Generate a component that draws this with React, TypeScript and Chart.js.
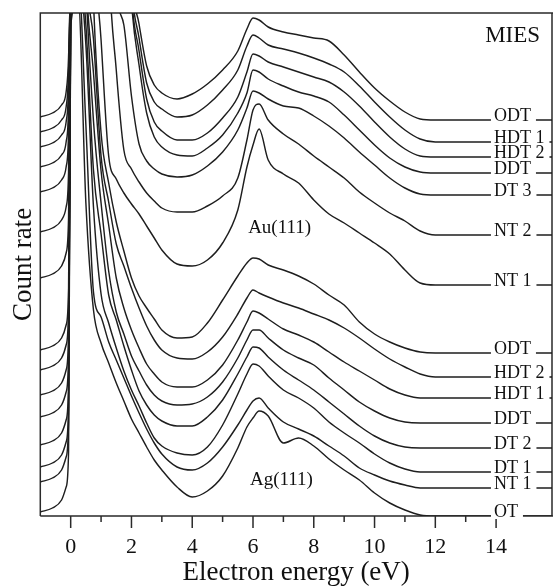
import React, { useEffect, useRef } from 'react';
import { Chart, registerables } from 'chart.js';

Chart.register(...registerables);

const FONT = '"Liberation Serif", "Times New Roman", serif';

// Electron energy grid (eV)
const energy = [-1, -0.6, -0.3, -0.15, -0.07, 0, 0.25, 0.5, 0.75, 1, 1.25, 1.5, 1.75, 2, 2.25, 2.5, 2.75, 3, 3.5, 4, 4.5, 5, 5.5, 5.8, 6, 6.2, 6.5, 7, 7.5, 8, 8.5, 9, 9.5, 10, 10.5, 11, 11.5, 12, 16];

// Au(111) spectra (offset count rate, arbitrary units)
const auODT = [399, 403, 411, 424, 459, 560, 1500, 1450, 1350, 1200, 1050, 900, 720, 540, 492, 450, 431, 423, 417, 422, 432, 446, 465, 487, 498, 496, 489, 484, 481, 478, 475, 461, 444, 428, 415, 404, 397, 396, 396];
const auHDT1 = [384, 388, 396, 409, 444, 560, 1500, 1450, 1350, 1200, 1050, 880, 700, 530, 478, 433, 414, 407, 399, 401, 411, 426, 446, 470, 481, 478, 471, 467, 463, 458, 452, 444, 430, 414, 399, 386, 377, 374, 374];
const auHDT2 = [369, 373, 381, 394, 429, 560, 1500, 1450, 1350, 1200, 1040, 860, 690, 520, 465, 417, 394, 385, 376, 376, 383, 398, 419, 444, 462, 460, 454, 449, 444, 439, 434, 424, 410, 394, 379, 367, 360, 359, 359];
const auDDT = [349, 353, 361, 374, 409, 560, 1500, 1450, 1350, 1200, 1030, 850, 680, 515, 451, 403, 379, 369, 361, 360, 368, 381, 403, 423, 446, 444, 437, 430, 424, 420, 414, 401, 386, 371, 358, 349, 344, 343, 343];
const auDT3 = [324, 328, 336, 349, 384, 560, 1500, 1400, 1200, 1000, 750, 530, 491, 420, 372, 355, 347, 342, 339, 341, 350, 364, 386, 408, 425, 423, 417, 410, 408, 400, 390, 378, 364, 351, 338, 328, 322, 321, 321];
const auNT2 = [284, 288, 296, 309, 344, 560, 1500, 1350, 1150, 900, 560, 446, 366, 347, 334, 323, 315, 308, 304, 304, 310, 320, 338, 376, 406, 412, 396, 382, 372, 360, 349, 338, 324, 313, 303, 295, 285, 281, 281];
const auNT1 = [238, 242, 250, 263, 298, 560, 1300, 1000, 600, 476, 360, 337, 323, 312, 302, 290, 278, 266, 252, 250, 256, 273, 306, 349, 371, 387, 356, 342, 333, 316, 302, 293, 283, 273, 262, 246, 233, 231, 231];

// Ag(111) spectra
const agODT = [166, 170, 178, 191, 226, 540, 1100, 800, 515, 383, 333, 294, 265, 238, 220, 208, 197, 186, 178, 179, 193, 216, 240, 253, 258, 257, 251, 246, 240, 232, 221, 211, 194, 182, 174, 168, 164, 163, 163];
const agHDT2 = [146, 150, 158, 171, 206, 530, 900, 560, 477, 360, 314, 272, 250, 228, 208, 190, 176, 166, 158, 157, 164, 179, 202, 218, 226, 223, 219, 213, 208, 202, 196, 188, 178, 167, 157, 149, 142, 139, 139];
const agHDT1 = [121, 125, 133, 146, 181, 520, 800, 540, 443, 345, 291, 238, 208, 186, 168, 152, 142, 134, 129, 129, 136, 151, 176, 194, 205, 203, 197, 187, 181, 174, 164, 154, 145, 136, 127, 121, 118, 118, 118];
const agDDT = [99, 103, 111, 124, 159, 510, 750, 530, 395, 313, 245, 204, 182, 160, 145, 131, 121, 115, 111, 112, 119, 134, 158, 176, 186, 186, 178, 166, 158, 151, 138, 126, 114, 105, 98, 94, 93, 93, 93];
const agDT2 = [71, 75, 83, 96, 131, 505, 560, 491, 346, 282, 221, 196, 170, 146, 125, 111, 101, 95, 90, 90, 99, 116, 142, 159, 169, 168, 159, 146, 136, 126, 114, 102, 90, 80, 73, 69, 68, 68, 68];
const agDT1 = [49, 53, 61, 74, 109, 500, 545, 471, 309, 222, 193, 168, 145, 126, 110, 93, 78, 70, 63, 61, 69, 91, 122, 142, 152, 150, 140, 126, 118, 108, 94, 83, 73, 62, 53, 47, 44, 44, 44];
const agNT1 = [34, 38, 46, 59, 94, 495, 540, 391, 224, 199, 174, 156, 138, 120, 103, 87, 73, 62, 49, 46, 53, 69, 91, 106, 115, 118, 108, 94, 87, 80, 70, 60, 48, 41, 35, 31, 28, 28, 28];
const agOT = [4, 8, 16, 29, 64, 490, 515, 313, 206, 173, 153, 133, 115, 97, 83, 69, 56, 46, 29, 19, 25, 40, 68, 89, 98, 105, 100, 73, 78, 70, 57, 46, 36, 23, 13, 6, 1, 0, 0];

const auNames = ['ODT', 'HDT 1', 'HDT 2', 'DDT', 'DT 3', 'NT 2', 'NT 1'];
const auValues = [auODT, auHDT1, auHDT2, auDDT, auDT3, auNT2, auNT1];
const agNames = ['ODT', 'HDT 2', 'HDT 1', 'DDT', 'DT 2', 'DT 1', 'NT 1', 'OT'];
const agValues = [agODT, agHDT2, agHDT1, agDDT, agDT2, agDT1, agNT1, agOT];

const majorTicks = [0, 2, 4, 6, 8, 10, 12, 14];
const minorTicks = [1, 3, 5, 7, 9, 11, 13];
const labelEnergy = 13.93;

const notes = [
  { text: 'MIES', x: 13.64, y: 474, size: 23 },
  { text: 'Au(111)', x: 5.84, y: 283, size: 19 },
  { text: 'Ag(111)', x: 5.9, y: 31, size: 19 },
];

const series = [
  ...auNames.map((name, i) => ({ name, values: auValues[i] })),
  ...agNames.map((name, i) => ({ name, values: agValues[i] })),
];

const framePlugin = {
  id: 'frame',
  beforeDatasetsDraw(chart: any) {
    const { ctx, chartArea: a } = chart;
    const xs = chart.scales.x;
    ctx.save();
    ctx.strokeStyle = '#2a2a2a';
    ctx.lineWidth = 1.5;
    ctx.beginPath();
    ctx.moveTo(a.left, a.bottom);
    ctx.lineTo(a.left, a.top);
    ctx.lineTo(chart.width, a.top);
    ctx.moveTo(a.right, a.top);
    ctx.lineTo(a.right, a.bottom);
    ctx.moveTo(a.left, a.bottom);
    ctx.lineTo(chart.width, a.bottom);
    majorTicks.forEach((v) => {
      const px = xs.getPixelForValue(v);
      ctx.moveTo(px, a.bottom);
      ctx.lineTo(px, a.bottom + 12);
    });
    minorTicks.forEach((v) => {
      const px = xs.getPixelForValue(v);
      ctx.moveTo(px, a.bottom);
      ctx.lineTo(px, a.bottom + 6);
    });
    ctx.stroke();
    ctx.restore();
  },
};

const labelPlugin = {
  id: 'labels',
  afterDatasetsDraw(chart: any) {
    const { ctx } = chart;
    const xs = chart.scales.x;
    const ys = chart.scales.y;
    ctx.save();
    ctx.font = `18px ${FONT}`;
    ctx.textBaseline = 'alphabetic';
    ctx.textAlign = 'left';
    series.forEach((s) => {
      const y = ys.getPixelForValue(s.values[s.values.length - 1]);
      const x = xs.getPixelForValue(labelEnergy);
      const w = ctx.measureText(s.name).width;
      ctx.fillStyle = '#fff';
      ctx.fillRect(x - 3, y - 14, w + 8, 17);
      ctx.fillStyle = '#111';
      ctx.fillText(s.name, x, y + 1);
    });
    notes.forEach((n) => {
      ctx.font = `${n.size}px ${FONT}`;
      ctx.fillStyle = '#111';
      ctx.fillText(n.text, xs.getPixelForValue(n.x), ys.getPixelForValue(n.y));
    });
    ctx.restore();
  },
};

export default function App() {
  const ref = useRef<HTMLCanvasElement>(null);
  useEffect(() => {
    const canvas = ref.current;
    if (!canvas) return;
    const chart = new Chart(canvas, {
      type: 'line',
      data: {
        datasets: series.map((s) => ({
          label: s.name,
          data: energy.map((x, i) => ({ x, y: s.values[i] })),
          borderColor: '#1e1e1e',
          borderWidth: 1.45,
          pointRadius: 0,
          fill: false,
          cubicInterpolationMode: 'monotone' as const,
        })),
      },
      options: {
        animation: false,
        responsive: false,
        devicePixelRatio: 1,
        events: [],
        layout: { padding: { top: 13, right: 1, left: 0, bottom: 0 } },
        elements: { line: { capBezierPoints: false } },
        plugins: { legend: { display: false }, tooltip: { enabled: false } },
        scales: {
          x: {
            type: 'linear',
            min: -1,
            max: 15.84,
            grid: { display: false, drawTicks: false },
            border: { display: false },
            afterBuildTicks: (s: any) => {
              s.ticks = majorTicks.map((v) => ({ value: v }));
            },
            afterFit: (s: any) => {
              s.height = 70;
            },
            ticks: {
              font: { size: 22, family: FONT },
              color: '#111',
              padding: 18,
              maxRotation: 0,
              autoSkip: false,
              callback: (v: any) => String(v),
            },
            title: {
              display: true,
              text: 'Electron energy (eV)',
              font: { size: 27, family: FONT, lineHeight: 1 },
              color: '#111',
              padding: 0,
            },
          },
          y: {
            type: 'linear',
            min: 0,
            max: 503,
            grid: { display: false, drawTicks: false },
            border: { display: false },
            ticks: { display: false },
            afterFit: (s: any) => {
              s.width = 40.3;
            },
            title: {
              display: true,
              text: 'Count rate',
              font: { size: 27, family: FONT, lineHeight: 1 },
              color: '#111',
              padding: { top: 10, bottom: 0 },
            },
          },
        },
      },
      plugins: [framePlugin, labelPlugin],
    } as any);
    return () => chart.destroy();
  }, []);
  return (
    <div style={{ position: 'fixed', left: 0, top: 0, width: 553, height: 586, overflow: 'hidden', background: '#fff' }}>
      <canvas ref={ref} width={553} height={586} style={{ display: 'block', width: 553, height: 586 }} />
    </div>
  );
}
